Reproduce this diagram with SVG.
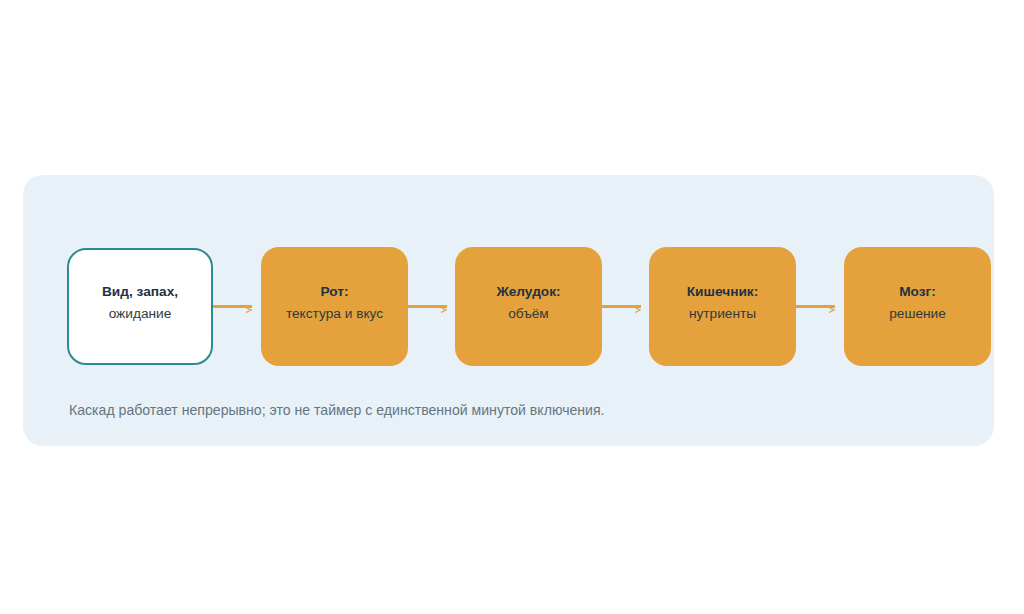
<svg xmlns="http://www.w3.org/2000/svg" width="1024" height="614" viewBox="0 0 1024 614">
<style>
.title{font-family:"Liberation Sans",Arial,sans-serif;font-size:13.7px;font-weight:bold;fill:#1f3244;text-anchor:middle}
.sub{font-family:"Liberation Sans",Arial,sans-serif;font-size:13.7px;fill:#2f3a40;text-anchor:middle}
.orange{fill:#E5A23C}
.conn{stroke:#E5A23C;stroke-width:3.2;fill:none}
.chev{stroke:#E5A23C;stroke-width:1.3;fill:none}
.cap{font-family:"Liberation Sans",Arial,sans-serif;font-size:14.1px;fill:#66757f}
</style>
<rect width="1024" height="614" fill="#ffffff"/>
<rect id="panel" x="23" y="175" width="971" height="271" rx="20" fill="#E8F1F8"/>
<g id="connectors">
<g><line class="conn" x1="212" y1="306.5" x2="252" y2="306.5"/><polyline class="chev" points="246,307.5 251,310 246,312.5"/></g>
<g><line class="conn" x1="408" y1="306.5" x2="447" y2="306.5"/><polyline class="chev" points="441,307.5 446,310 441,312.5"/></g>
<g><line class="conn" x1="602" y1="306.5" x2="641" y2="306.5"/><polyline class="chev" points="635,307.5 640,310 635,312.5"/></g>
<g><line class="conn" x1="796" y1="306.5" x2="835" y2="306.5"/><polyline class="chev" points="829,307.5 834,310 829,312.5"/></g>
</g>
<g id="node-vid">
<rect x="68" y="249" width="144" height="115" rx="18" fill="#ffffff" stroke="#2a8c8e" stroke-width="2"/>
<text class="title" x="140" y="296">Вид, запах,</text>
<text class="sub" x="140" y="318" fill="#3a4a55">ожидание</text>
</g>
<g id="node-rot">
<rect class="orange" x="261" y="247" width="147" height="119" rx="18"/>
<text class="title" x="334.5" y="296">Рот:</text>
<text class="sub" x="334.5" y="318">текстура и вкус</text>
</g>
<g id="node-zheludok">
<rect class="orange" x="455" y="247" width="147" height="119" rx="18"/>
<text class="title" x="528.5" y="296">Желудок:</text>
<text class="sub" x="528.5" y="318">объём</text>
</g>
<g id="node-kishechnik">
<rect class="orange" x="649" y="247" width="147" height="119" rx="18"/>
<text class="title" x="722.5" y="296">Кишечник:</text>
<text class="sub" x="722.5" y="318">нутриенты</text>
</g>
<g id="node-mozg">
<rect class="orange" x="844" y="247" width="147" height="119" rx="18"/>
<text class="title" x="917.5" y="296">Мозг:</text>
<text class="sub" x="917.5" y="318">решение</text>
</g>
<text class="cap" x="69" y="415">Каскад работает непрерывно; это не таймер с единственной минутой включения.</text>
</svg>
